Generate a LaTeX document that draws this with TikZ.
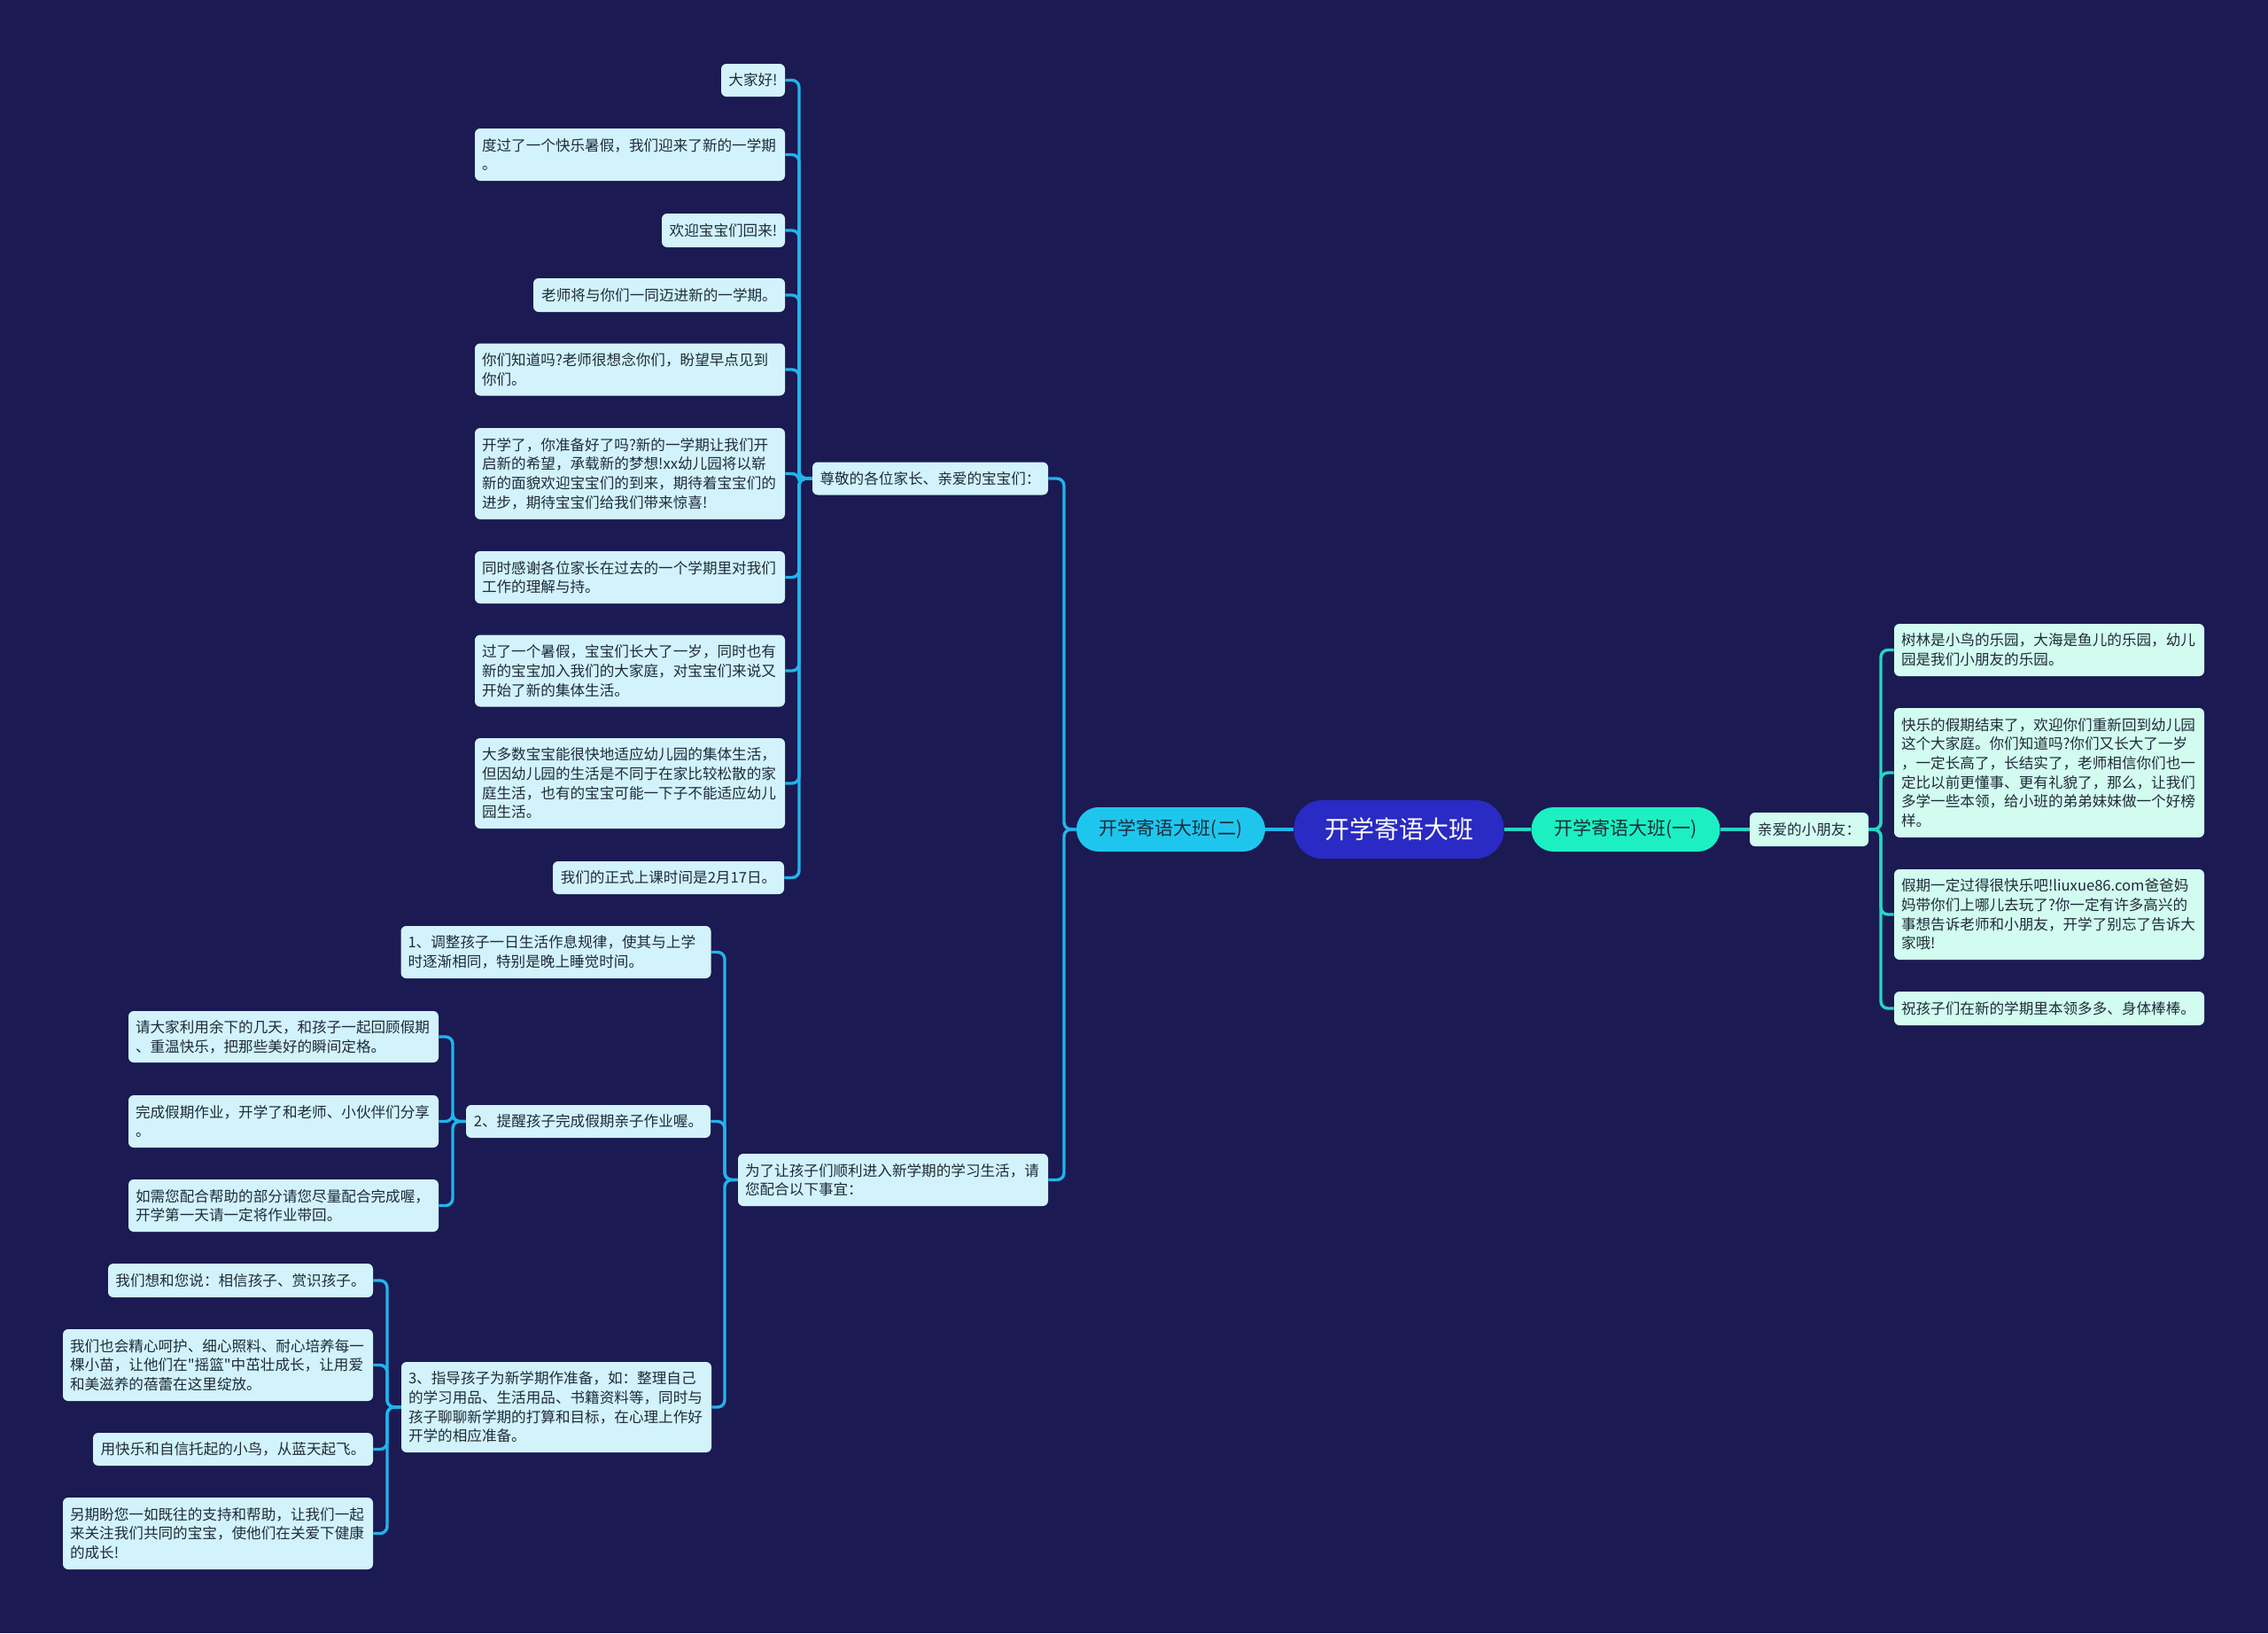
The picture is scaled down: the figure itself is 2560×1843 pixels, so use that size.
\documentclass[tikz,border=0pt]{standalone}
\usepackage{fontspec}
\setmainfont{Noto Sans CJK SC}
\setmonofont{Noto Sans CJK SC}
\usetikzlibrary{backgrounds}
\definecolor{bgC}{HTML}{1B1A52}
\definecolor{rootC}{HTML}{2A2AC4}
\definecolor{brL}{HTML}{1EC6EE}
\definecolor{brR}{HTML}{1CF0C2}
\definecolor{leafLC}{HTML}{D2F3FB}
\definecolor{leafRC}{HTML}{D2FCF0}
\definecolor{txtC}{HTML}{1F2B38}
\definecolor{lineL}{HTML}{22B4EC}
\definecolor{lineR}{HTML}{26D6C4}
\newcommand\leaffont{\fontsize{8.3pt}{10.85pt}\selectfont}
\newcommand\brfont{\fontsize{10.5pt}{12pt}\selectfont}
\newcommand\rootfont{\fontsize{14pt}{16pt}\selectfont}
\newcommand\sq{{\ttfamily"}}
\tikzset{
  leafbase/.style={rounded corners=3pt, text=txtC, font=\leaffont, align=left, inner xsep=4pt, inner ysep=1pt, anchor=center},
  leafL/.style={leafbase, fill=leafLC},
  leafR/.style={leafbase, fill=leafRC},
  multi/.style={text width=167pt},
  conL/.style={draw=lineL, line width=1.7pt, rounded corners=4pt},
  conR/.style={draw=lineR, line width=1.7pt, rounded corners=4pt},
}
\begin{document}
\begin{tikzpicture}[x=0.5pt,y=-0.5pt]
\useasboundingbox (0,0) rectangle (2560,1843);

% central nodes
\node[fill=rootC, text=white, font=\rootfont, rounded corners=16pt, minimum width=118.5pt, minimum height=33pt, inner sep=0pt] (root) at (1579,936) {开学寄语大班};
\node[fill=brR, text=txtC, font=\brfont, rounded corners=12.5pt, minimum width=106.5pt, minimum height=25pt, inner sep=0pt] (b1) at (1835,936) {开学寄语大班(一)};
\node[fill=brL, text=txtC, font=\brfont, rounded corners=12.5pt, minimum width=106.5pt, minimum height=25pt, inner sep=0pt] (b2) at (1321.5,936) {开学寄语大班(二)};

% right side
\node[leafR, minimum width=67pt, minimum height=19pt] (pR) at (2042,936) {亲爱的小朋友：};
\node[leafR, multi, minimum height=29.5pt] (R1) at (2313,733.5) {树林是小鸟的乐园，大海是鱼儿的乐园，幼儿\\园是我们小朋友的乐园。};
\node[leafR, multi, minimum height=73pt] (R2) at (2313,872) {快乐的假期结束了，欢迎你们重新回到幼儿园\\这个大家庭。你们知道吗?你们又长大了一岁\\，一定长高了，长结实了，老师相信你们也一\\定比以前更懂事、更有礼貌了，那么，让我们\\多学一些本领，给小班的弟弟妹妹做一个好榜\\样。};
\node[leafR, multi, minimum height=51pt] (R3) at (2313,1032) {假期一定过得很快乐吧!liuxue86.com爸爸妈\\妈带你们上哪儿去玩了?你一定有许多高兴的\\事想告诉老师和小朋友，开学了别忘了告诉大\\家哦!};
\node[leafR, multi, minimum height=19pt] (R4) at (2313,1138) {祝孩子们在新的学期里本领多多、身体棒棒。};

% left group A
\node[leafL, minimum width=133pt, minimum height=18.5pt] (pA) at (1050,540) {尊敬的各位家长、亲爱的宝宝们：};
\node[leafL, minimum width=36pt, minimum height=18.5pt] (L1) at (850,90.5) {大家好!};
\node[leafL, multi, minimum height=29.5pt] (L2) at (711,174.5) {度过了一个快乐暑假，我们迎来了新的一学期\\。};
\node[leafL, minimum width=69.5pt, minimum height=19pt] (L3) at (816.5,260) {欢迎宝宝们回来!};
\node[leafL, minimum width=142pt, minimum height=19pt] (L4) at (744,333) {老师将与你们一同迈进新的一学期。};
\node[leafL, multi, minimum height=29.5pt] (L5) at (711,417) {你们知道吗?老师很想念你们，盼望早点见到\\你们。};
\node[leafL, multi, minimum height=51.5pt] (L6) at (711,534.5) {开学了，你准备好了吗?新的一学期让我们开\\启新的希望，承载新的梦想!xx幼儿园将以崭\\新的面貌欢迎宝宝们的到来，期待着宝宝们的\\进步，期待宝宝们给我们带来惊喜!};
\node[leafL, multi, minimum height=29.5pt] (L7) at (711,651.5) {同时感谢各位家长在过去的一个学期里对我们\\工作的理解与持。};
\node[leafL, multi, minimum height=40.5pt] (L8) at (711,757) {过了一个暑假，宝宝们长大了一岁，同时也有\\新的宝宝加入我们的大家庭，对宝宝们来说又\\开始了新的集体生活。};
\node[leafL, multi, minimum height=51pt] (L9) at (711,884) {大多数宝宝能很快地适应幼儿园的集体生活，\\但因幼儿园的生活是不同于在家比较松散的家\\庭生活，也有的宝宝可能一下子不能适应幼儿\\园生活。};
\node[leafL, minimum width=130.5pt, minimum height=18.5pt] (L10) at (754.5,990.5) {我们的正式上课时间是2月17日。};

% left group B
\node[leafL, multi, minimum height=29.5pt] (pB) at (1008,1331.5) {为了让孩子们顺利进入新学期的学习生活，请\\您配合以下事宜：};
\node[leafL, multi, minimum height=29.5pt] (C1) at (627.5,1074.5) {1、调整孩子一日生活作息规律，使其与上学\\时逐渐相同，特别是晚上睡觉时间。};
\node[leafL, minimum width=138pt, minimum height=18.5pt] (C2) at (664,1265.5) {2、提醒孩子完成假期亲子作业喔。};
\node[leafL, multi, minimum height=51pt] (C3) at (628,1588) {3、指导孩子为新学期作准备，如：整理自己\\的学习用品、生活用品、书籍资料等，同时与\\孩子聊聊新学期的打算和目标，在心理上作好\\开学的相应准备。};

\node[leafL, multi, minimum height=29pt] (D1) at (320,1170) {请大家利用余下的几天，和孩子一起回顾假期\\、重温快乐，把那些美好的瞬间定格。};
\node[leafL, multi, minimum height=29.5pt] (D2) at (320,1265.5) {完成假期作业，开学了和老师、小伙伴们分享\\。};
\node[leafL, multi, minimum height=29.5pt] (D3) at (320,1360.5) {如需您配合帮助的部分请您尽量配合完成喔，\\开学第一天请一定将作业带回。};

\node[leafL, minimum width=149.5pt, minimum height=19pt] (E1) at (271.5,1445) {我们想和您说：相信孩子、赏识孩子。};
\node[leafL, multi, minimum height=40.5pt] (E2) at (246,1540.5) {我们也会精心呵护、细心照料、耐心培养每一\\棵小苗，让他们在\sq 摇篮\sq 中茁壮成长，让用爱\\和美滋养的蓓蕾在这里绽放。};
\node[leafL, minimum width=158pt, minimum height=18.5pt] (E3) at (263,1635.5) {用快乐和自信托起的小鸟，从蓝天起飞。};
\node[leafL, multi, minimum height=40.5pt] (E4) at (246,1730.5) {另期盼您一如既往的支持和帮助，让我们一起\\来关注我们共同的宝宝，使他们在关爱下健康\\的成长!};

% trunk coordinates
\coordinate (tR) at (2123,936);
\coordinate (t2) at (1201,936);
\coordinate (tA) at (902,540);
\coordinate (tB) at (818,1331.5);
\coordinate (tC2) at (511,1265.5);
\coordinate (tC3) at (437,1588);

\begin{pgfonlayer}{background}
\fill[bgC] (0,0) rectangle (2560,1843);
% central
\draw[conL] (root.west) -- (b2.east);
\draw[conR] (root.east) -- (b1.west);
\draw[conR] (b1.east) -- (pR.west);
% right
\foreach \n in {R1,R2,R3,R4} \draw[conR] (pR.east) -- (tR) |- (\n.west);
% left second level
\foreach \n in {pA,pB} \draw[conL] (b2.west) -- (t2) |- (\n.east);
\foreach \n in {L1,L2,L3,L4,L5,L6,L7,L8,L9,L10} \draw[conL] (pA.west) -- (tA) |- (\n.east);
\foreach \n in {C1,C2,C3} \draw[conL] (pB.west) -- (tB) |- (\n.east);
\foreach \n in {D1,D2,D3} \draw[conL] (C2.west) -- (tC2) |- (\n.east);
\foreach \n in {E1,E2,E3,E4} \draw[conL] (C3.west) -- (tC3) |- (\n.east);
\end{pgfonlayer}
\end{tikzpicture}
\end{document}
